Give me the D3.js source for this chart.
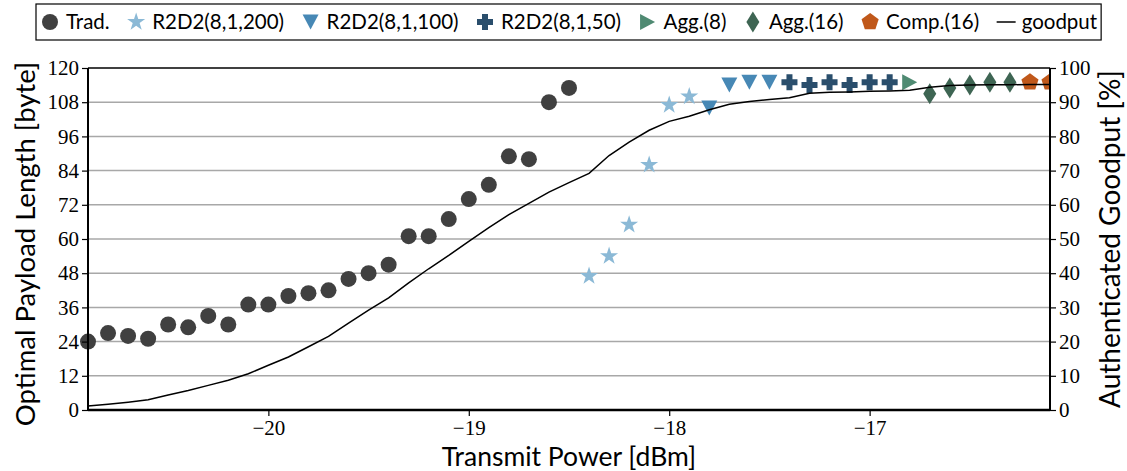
<!DOCTYPE html>
<html>
<head>
<meta charset="utf-8">
<script src="https://cdn.jsdelivr.net/npm/d3@7"></script>
<style>
  html, body { margin: 0; padding: 0; background: #fff; }
  svg { display: block; }
</style>
</head>
<body>
<svg id="chart" width="1127" height="471"></svg>
<script>
// ---------------- data ----------------
const tradX = [-20.9,-20.8,-20.7,-20.6,-20.5,-20.4,-20.3,-20.2,-20.1,-20.0,-19.9,-19.8,-19.7,-19.6,-19.5,-19.4,-19.3,-19.2,-19.1,-19.0,-18.9,-18.8,-18.7,-18.6,-18.5];
const tradY = [24,27,26,25,30,29,33,30,37,37,40,41,42,46,48,51,61,61,67,74,79,89,88,108,113];
const r200X = [-18.4,-18.3,-18.2,-18.1,-18.0,-17.9];
const r200Y = [47,54,65,86,107,110];
const r100X = [-17.8,-17.7,-17.6,-17.5];
const r100Y = [106,114,115,115];
const r50X = [-17.4,-17.3,-17.2,-17.1,-17.0,-16.9];
const r50Y = [115,114,115,114,115,115];
const agg8X = [-16.8];
const agg8Y = [115];
const agg16X = [-16.7,-16.6,-16.5,-16.4,-16.3];
const agg16Y = [111,113,114,115,115];
const comp16X = [-16.2,-16.1];
const comp16Y = [115,115];
const goodputX = [-20.9,-20.8,-20.7,-20.6,-20.5,-20.4,-20.3,-20.2,-20.1,-20.0,-19.9,-19.8,-19.7,-19.6,-19.5,-19.4,-19.3,-19.2,-19.1,-19.0,-18.9,-18.8,-18.7,-18.6,-18.5,-18.4,-18.3,-18.2,-18.1,-18.0,-17.9,-17.8,-17.7,-17.6,-17.5,-17.4,-17.3,-17.2,-17.1,-17.0,-16.9,-16.8,-16.7,-16.6,-16.5,-16.4,-16.3,-16.2,-16.1];
const goodputY = [1.2,1.7,2.3,3.0,4.4,5.7,7.2,8.7,10.6,13.1,15.5,18.5,21.5,25.4,29.2,32.8,37.2,41.3,45.2,49.3,53.3,57.1,60.4,63.7,66.5,69.2,74.4,78.3,81.8,84.4,85.9,87.8,89.4,90.2,90.8,91.3,92.6,92.9,93.0,93.2,93.3,93.5,94.4,94.9,95.0,95.1,95.1,95.2,95.2];
const xTicks = [-20,-19,-18,-17];
const yLeftTicks = [0,12,24,36,48,60,72,84,96,108,120];
const yRightTicks = [0,10,20,30,40,50,60,70,80,90,100];
const legendLabels = ["Trad.","R2D2(8,1,200)","R2D2(8,1,100)","R2D2(8,1,50)","Agg.(8)","Agg.(16)","Comp.(16)","goodput"];

// ---------------- shapes ----------------
function starPath(R) {
  const r = R * 0.382; let p = [];
  for (let i = 0; i < 10; i++) {
    const a = -Math.PI/2 + i*Math.PI/5, rr = i % 2 ? r : R;
    p.push([rr*Math.cos(a), rr*Math.sin(a)]);
  }
  return "M" + p.map(d => d.join(",")).join("L") + "Z";
}
function polyPath(pts) { return "M" + pts.map(d => d.join(",")).join("L") + "Z"; }
function circlePath(r) { return `M${-r},0A${r},${r} 0 1,0 ${r},0A${r},${r} 0 1,0 ${-r},0Z`; }
function pentPath(R) {
  let p = [];
  for (let i = 0; i < 5; i++) { const a = -Math.PI/2 + i*2*Math.PI/5; p.push([R*Math.cos(a), R*Math.sin(a)]); }
  return polyPath(p);
}
const a = 8, t = 3;
const shapes = {
  circle: circlePath(8),
  star: starPath(9.5),
  tdown: polyPath([[0,7.5],[-8,-7.5],[8,-7.5]]),
  plus: polyPath([[-t,-a],[t,-a],[t,-t],[a,-t],[a,t],[t,t],[t,a],[-t,a],[-t,t],[-a,t],[-a,-t],[-t,-t]]),
  tright: polyPath([[7.5,0],[-7.5,-8],[-7.5,8]]),
  diamond: polyPath([[0,-10.5],[6.5,0],[0,10.5],[-6.5,0]]),
  pent: pentPath(9)
};

const series = [
  {x: tradX, y: tradY, shape: "circle", color: "#404040"},
  {x: r200X, y: r200Y, shape: "star", color: "#8bb9d6"},
  {x: r100X, y: r100Y, shape: "tdown", color: "#4788b5"},
  {x: r50X, y: r50Y, shape: "plus", color: "#2a4e6c"},
  {x: agg8X, y: agg8Y, shape: "tright", color: "#4f8a72"},
  {x: agg16X, y: agg16Y, shape: "diamond", color: "#3e6553"},
  {x: comp16X, y: comp16Y, shape: "pent", color: "#c0581a"}
];

// ---------------- chart ----------------
const svg = d3.select("#chart");
const L = 88, R = 1050, T = 68, B = 410;
const x = d3.scaleLinear().domain([-20.9, -16.1]).range([L, R]);
const yL = d3.scaleLinear().domain([0, 120]).range([B, T]);
const yR = d3.scaleLinear().domain([0, 100]).range([B, T]);

const serif = "Liberation Serif, Tinos, Times New Roman, DejaVu Serif, Noto Serif, FreeSerif, serif";
const sans = "Lato, Open Sans, sans-serif";

// grid
svg.append("g").selectAll("line").data(yLeftTicks.filter(v => v > 0 && v < 120)).join("line")
  .attr("x1", L).attr("x2", R).attr("y1", d => yL(d)).attr("y2", d => yL(d))
  .attr("stroke", "#a8a8a8").attr("stroke-width", 1.5);

svg.append("defs").append("clipPath").attr("id", "clip")
  .append("rect").attr("x", 0).attr("y", 0).attr("width", R).attr("height", 471);

// markers
const mk = svg.append("g").attr("clip-path", "url(#clip)");
series.forEach(s => {
  mk.append("g").selectAll("path").data(s.x.map((v, i) => [v, s.y[i]])).join("path")
    .attr("d", shapes[s.shape])
    .attr("transform", d => `translate(${x(d[0])},${yL(d[1])})`)
    .attr("fill", s.color);
});

// goodput line
svg.append("path")
  .datum(goodputX.map((v, i) => [v, goodputY[i]]))
  .attr("d", d3.line().x(d => x(d[0])).y(d => yR(d[1])))
  .attr("fill", "none").attr("stroke", "#000").attr("stroke-width", 1.5);

// axes
const ax = d3.axisBottom(x).tickValues(xTicks).tickFormat(d3.format("d")).tickSize(6).tickPadding(3);
const gx = svg.append("g").attr("transform", `translate(0,${B})`).call(ax);
const gyl = svg.append("g").attr("transform", `translate(${L},0)`)
  .call(d3.axisLeft(yL).tickValues(yLeftTicks).tickFormat(d3.format("d")).tickSize(6).tickPadding(3));
const gyr = svg.append("g").attr("transform", `translate(${R},0)`)
  .call(d3.axisRight(yR).tickValues(yRightTicks).tickFormat(d3.format("d")).tickSize(6).tickPadding(3));
[gx, gyl, gyr].forEach(g => {
  g.attr("font-family", serif).attr("font-size", 21);
  g.select(".domain").remove();
  g.selectAll("line").attr("stroke", "#000").attr("stroke-width", 1.2);
  g.selectAll("text").attr("font-family", serif).attr("font-size", 21).attr("fill", "#000");
});
gx.selectAll("text").attr("dy", "0.75em");

// frame
svg.append("line").attr("x1", L).attr("x2", R).attr("y1", T).attr("y2", T).attr("stroke", "#000").attr("stroke-width", 1.5);
svg.append("line").attr("x1", L).attr("x2", R).attr("y1", B).attr("y2", B).attr("stroke", "#000").attr("stroke-width", 2.5);
svg.append("line").attr("x1", L).attr("x2", L).attr("y1", T).attr("y2", B).attr("stroke", "#000").attr("stroke-width", 2);
svg.append("line").attr("x1", R).attr("x2", R).attr("y1", T).attr("y2", B).attr("stroke", "#000").attr("stroke-width", 2);

// axis titles
svg.append("text").attr("x", (L + R) / 2).attr("y", 466).attr("text-anchor", "middle")
  .attr("font-family", sans).attr("font-size", 26.5).text("Transmit Power [dBm]");
svg.append("text").attr("transform", `translate(35,${(T + B) / 2 + 5}) rotate(-90)`).attr("text-anchor", "middle")
  .attr("font-family", sans).attr("font-size", 27.5).text("Optimal Payload Length [byte]");
svg.append("text").attr("transform", `translate(1120,${(T + B) / 2}) rotate(-90)`).attr("text-anchor", "middle")
  .attr("font-family", sans).attr("font-size", 28).text("Authenticated Goodput [%]");

// legend
const lg = svg.append("g");
const box = lg.append("rect").attr("x", 36).attr("y", 4).attr("height", 36)
  .attr("fill", "#fff").attr("stroke", "#000").attr("stroke-width", 1.2);
let cur = 40;
legendLabels.forEach((lab, i) => {
  if (i < series.length) {
    lg.append("path").attr("d", shapes[series[i].shape]).attr("fill", series[i].color)
      .attr("transform", `translate(${cur + 10},22)`);
  } else {
    lg.append("line").attr("x1", cur + 1).attr("x2", cur + 20).attr("y1", 22).attr("y2", 22)
      .attr("stroke", "#000").attr("stroke-width", 1.5);
  }
  const tx = lg.append("text").attr("x", cur + 26).attr("y", 29).attr("font-family", sans)
    .attr("font-size", 20.5).text(lab);
  cur = cur + 26 + tx.node().getComputedTextLength() + 16.5;
});
box.attr("width", cur - 12.5 - 36);
</script>
</body>
</html>
